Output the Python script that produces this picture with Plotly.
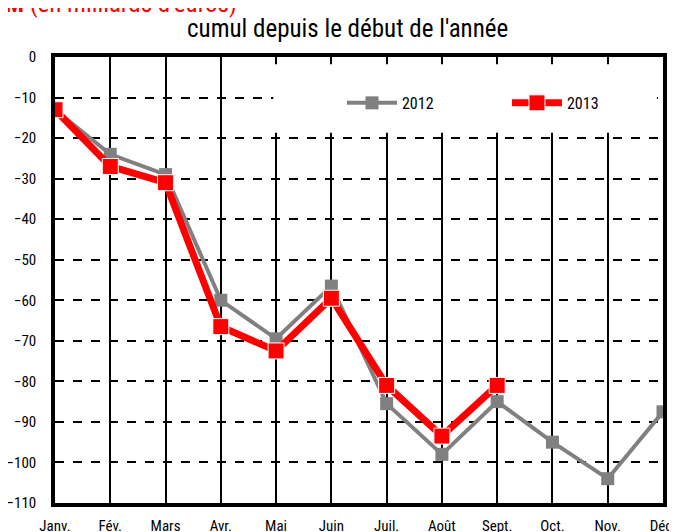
import plotly.graph_objects as go

months = ["Janv.", "Fév.", "Mars", "Avr.", "Mai", "Juin", "Juil.", "Août", "Sept.", "Oct.", "Nov.", "Déc."]
y2012 = [-13, -24, -29, -60, -69.5, -56.5, -85.5, -98, -85, -95, -104, -87.5]
y2013 = [-13, -27, -31, -66.5, -72.5, -59.5, -81, -93.5, -81]
yticks = list(range(0, -111, -10))

FONT = "Liberation Sans Narrow, Arial Narrow, Roboto Condensed, Roboto, sans-serif"

fig = go.Figure()
fig.add_trace(go.Scatter(
    x=list(range(len(y2012))), y=y2012, name="2012", mode="lines+markers",
    line=dict(color="#808080", width=4),
    marker=dict(symbol="square", size=13, color="#808080", line=dict(color="#808080", width=0)),
))
fig.add_trace(go.Scatter(
    x=list(range(len(y2013))), y=y2013, name="2013", mode="lines+markers",
    line=dict(color="#ff0000", width=7),
    marker=dict(symbol="square", size=16, color="#ff0000", line=dict(color="white", width=1)),
))

# white box behind legend, hiding gridlines
fig.add_shape(type="rect", xref="paper", yref="paper",
              x0=0.359, x1=0.99, y0=0.83, y1=0.984,
              fillcolor="white", line=dict(width=0), layer="above")

fig.update_layout(
    width=677, height=532,
    margin=dict(l=47, r=22, t=49, b=37, autoexpand=False),
    plot_bgcolor="white", paper_bgcolor="white",
    font=dict(family=FONT, size=15, color="black"),
    showlegend=True,
    legend=dict(orientation="h", x=0.472, y=0.897, xanchor="left", yanchor="middle",
                bgcolor="rgba(0,0,0,0)", font=dict(size=16, family=FONT),
                entrywidth=100, entrywidthmode="pixels", itemwidth=50),
    xaxis=dict(
        range=[0, 11], tickmode="array", tickvals=list(range(12)), ticktext=months,
        showgrid=True, gridcolor="black", gridwidth=1.5, zeroline=False,
        showline=True, linecolor="black", linewidth=3.5, mirror=True,
        ticks="", tickfont=dict(size=15, family=FONT), automargin=False,
        ticklabelstandoff=6,
    ),
    yaxis=dict(
        range=[-110, 0], tickmode="array", tickvals=yticks,
        showgrid=True, gridcolor="black", gridwidth=1.5, griddash="dash", zeroline=False,
        showline=True, linecolor="black", linewidth=3.5, mirror=True,
        ticks="", tickfont=dict(size=15, family=FONT), automargin=False,
        ticklabelstandoff=12,
    ),
    annotations=[
        dict(text="cumul depuis le début de l'année", xref="paper", yref="paper",
             x=0.481, y=1.0, yshift=29, xanchor="center", yanchor="middle",
             showarrow=False, font=dict(size=25, family=FONT, color="black")),
        dict(text="<b>M</b> (en milliards d'euros)", xref="paper", yref="paper",
             x=-0.085, y=1.0, yshift=54, xanchor="left", yanchor="middle",
             showarrow=False, font=dict(size=25, family=FONT, color="#ff0000")),
    ],
)

fig.write_html("out.html")
